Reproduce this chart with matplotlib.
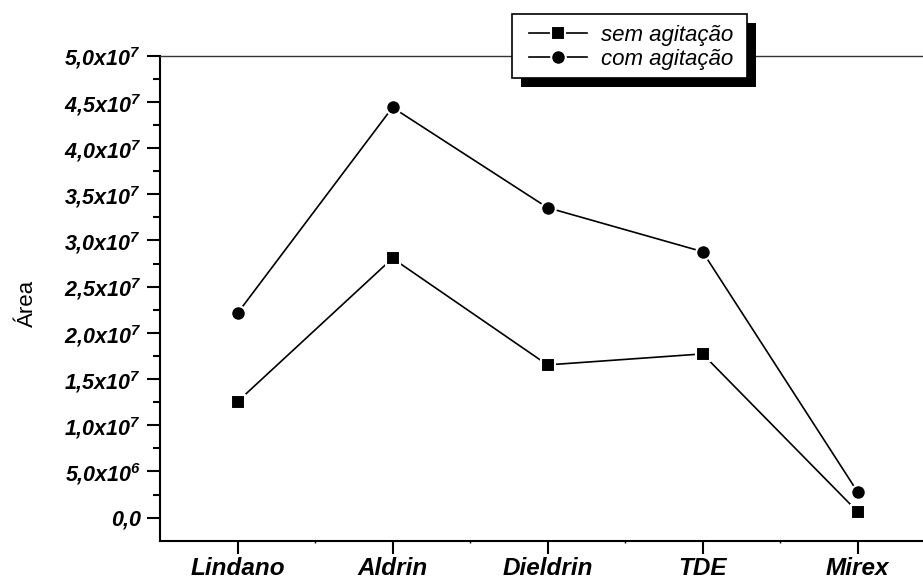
import matplotlib
matplotlib.use("Agg")
import matplotlib.pyplot as plt
from matplotlib.legend_handler import HandlerLine2D
from matplotlib.patches import Rectangle
from matplotlib.ticker import FixedLocator

# data
compounds = ["Lindano", "Aldrin", "Dieldrin", "TDE", "Mirex"]
sem_agitacao = [1.255e7, 2.807e7, 1.653e7, 1.772e7, 0.065e7]
com_agitacao = [2.212e7, 4.44e7, 3.355e7, 2.879e7, 0.28e7]
ytick_vals = [0, 5e6, 1e7, 1.5e7, 2e7, 2.5e7, 3e7, 3.5e7, 4e7, 4.5e7, 5e7]
ytick_labels = ["0,0", "5,0x10$^{6}$", "1,0x10$^{7}$", "1,5x10$^{7}$", "2,0x10$^{7}$",
                "2,5x10$^{7}$", "3,0x10$^{7}$", "3,5x10$^{7}$", "4,0x10$^{7}$",
                "4,5x10$^{7}$", "5,0x10$^{7}$"]

plt.rcParams["font.family"] = ["Liberation Sans", "DejaVu Sans"]
plt.rcParams["mathtext.fontset"] = "custom"
plt.rcParams["mathtext.rm"] = "Liberation Sans:italic:bold"
plt.rcParams["mathtext.it"] = "Liberation Sans:italic:bold"
plt.rcParams["mathtext.bf"] = "Liberation Sans:italic:bold"

W, H = 923, 579
fig = plt.figure(figsize=(W / 100, H / 100), dpi=100)
ax = fig.add_axes([160 / W, 1 - 540.7 / H, 775 / W, (540.7 - 55.7) / H])

x = list(range(1, len(compounds) + 1))
l1, = ax.plot(x, sem_agitacao, color="black", lw=1.2, marker="s", ms=9.8,
              mfc="black", mec="white", mew=1.5, label="sem agitação")
l2, = ax.plot(x, com_agitacao, color="black", lw=1.2, marker="o", ms=10.5,
              mfc="black", mec="white", mew=1.5, label="com agitação")

ax.set_xlim(0.5, 5.5)
ax.set_ylim(-2.5e6, 5e7)

ax.set_xticks(x)
ax.set_xticklabels(compounds, fontsize=17.5, fontweight="bold", style="italic")
ax.xaxis.set_minor_locator(FixedLocator([1.5, 2.5, 3.5, 4.5]))
ax.yaxis.set_major_locator(FixedLocator(ytick_vals))
ax.set_yticklabels(ytick_labels, fontsize=15.5, fontweight="bold", style="italic")
ax.yaxis.set_minor_locator(FixedLocator([v + 2.5e6 for v in ytick_vals[:-1]]))

ax.tick_params(axis="both", which="major", direction="out", width=1.5, color="black")
ax.tick_params(axis="y", which="major", length=9.5, pad=4)
ax.tick_params(axis="y", which="minor", direction="out", length=5, width=1.5)
ax.tick_params(axis="x", which="major", length=9, pad=3)
ax.tick_params(axis="x", which="minor", direction="out", length=1.5, width=1)

for side in ("left", "bottom"):
    ax.spines[side].set_linewidth(1.5)
ax.spines["top"].set_linewidth(1.0)
ax.spines["top"].set_color("#333333")
ax.spines["right"].set_visible(False)

ax.set_ylabel("Área", fontsize=16)
ax.yaxis.set_label_coords(-0.157, 0.49)

# legend: Origin-style white box with a solid black drop shadow
box_x0, box_y0, box_x1, box_y1 = 511.7, 14, 746.7, 78
shadow = 9
ax.add_patch(Rectangle(((box_x0 + shadow) / W, 1 - (box_y1 + shadow) / H),
                       (box_x1 - box_x0) / W, (box_y1 - box_y0) / H,
                       transform=fig.transFigure, facecolor="black", edgecolor="none",
                       clip_on=False, zorder=5))
ax.add_patch(Rectangle((box_x0 / W, 1 - box_y1 / H),
                       (box_x1 - box_x0) / W, (box_y1 - box_y0) / H,
                       transform=fig.transFigure, facecolor="white", edgecolor="black",
                       lw=1.2, clip_on=False, zorder=5.2))
leg = ax.legend(handles=[l1, l2], loc="center left", bbox_to_anchor=(529 / W, 1 - 47.5 / H),
                bbox_transform=fig.transFigure, borderaxespad=0, borderpad=0,
                frameon=False, prop={"size": 16, "style": "italic"},
                handlelength=2.6, handletextpad=0.63, labelspacing=0.12,
                handler_map={l1: HandlerLine2D(numpoints=1), l2: HandlerLine2D(numpoints=1)})
leg.set_zorder(6)

fig.savefig("out.png", dpi=100)
